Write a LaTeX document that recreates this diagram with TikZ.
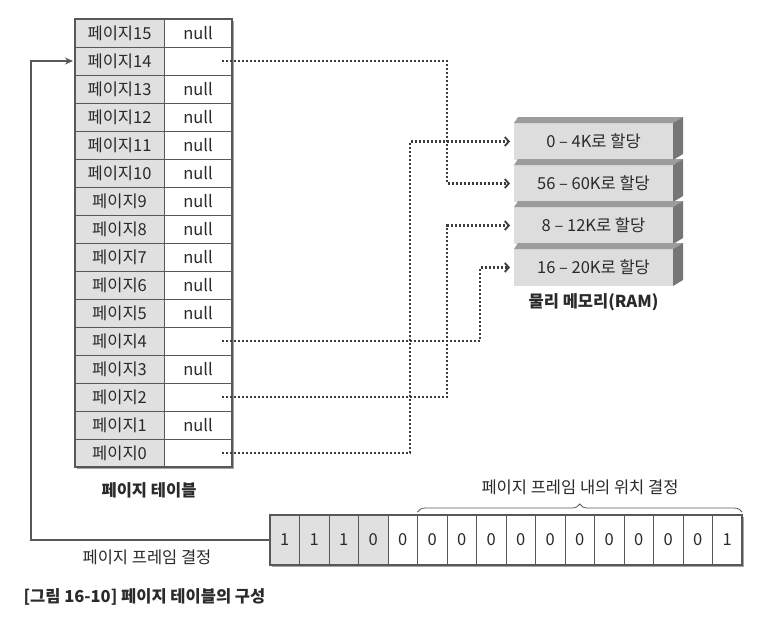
\documentclass[tikz,border=0pt]{standalone}
\usepackage{fontspec}
\setmainfont{Noto Sans CJK KR}
\usetikzlibrary{backgrounds,positioning,arrows.meta,decorations.pathreplacing}

\definecolor{cellgray}{HTML}{E0E0E0}
\definecolor{linegray}{HTML}{585858}
\definecolor{textgray}{HTML}{2A2A2A}
\definecolor{dotgray}{HTML}{3C3C3C}
\definecolor{memfront}{HTML}{DDDDDD}
\definecolor{memtop}{HTML}{9C9C9C}
\definecolor{memside}{HTML}{767676}

\tikzset{
	txt/.style={text=textgray, font=\fontsize{16.5}{19}\selectfont},
	boldtxt/.style={text=textgray, font=\fontsize{16.5}{19}\selectfont\bfseries},
	pagecell/.style={txt, draw=linegray, fill=cellgray, minimum width=89, minimum height=28, inner sep=0pt, outer sep=0pt},
	valcell/.style={txt, draw=linegray, fill=white, minimum width=68, minimum height=28, inner sep=0pt, outer sep=0pt},
	bit/.style={txt, draw=linegray, fill=white, minimum width=29.5, minimum height=50, inner sep=0pt, outer sep=0pt},
	memface/.style={txt, fill=memfront, minimum width=159, minimum height=37, inner sep=0pt, outer sep=0pt},
	link/.style={draw=dotgray, line width=2.2pt, dash pattern=on 2pt off 2pt, -{Straight Barb[length=4pt,width=9pt,line width=1.8pt]}, shorten >=4pt},
	framelink/.style={draw=linegray, line width=1.3pt, -{Stealth[length=8pt,width=7pt]}, shorten >=2pt}
}

\begin{document}
\begin{tikzpicture}[x=1pt,y=-1pt]
	\useasboundingbox (0,0) rectangle (765,619);
	
	% page table
	\foreach \k/\v in {15/null,14/,13/null,12/null,11/null,10/null,9/null,8/null,7/null,6/null,5/null,4/,3/null,2/,1/null,0/}{
		\node[pagecell] (l\k) at (119.5, {33+(15-\k)*28}) {페이지\k};
		\node[valcell, right=0pt of l\k] (v\k) {\v};
	}
	\draw[linegray, line width=1.4pt] (l15.north west) rectangle (v0.south east);
	\begin{scope}[on background layer]
		\fill[gray!70] ([shift={(2,2)}]l15.north west) rectangle ([shift={(2,2)}]v0.south east);
	\end{scope}
	\node[boldtxt] (tbllbl) at (149, 490) {페이지 테이블};
	
	% physical memory
	\foreach \t/\n [count=\i from 0] in {0 – 4K로 할당/m0, 56 – 60K로 할당/m56, 8 – 12K로 할당/m8, 16 – 20K로 할당/m16}{
		\node[memface] (\n) at (593.5, {141.5+\i*42}) {\t};
		\fill[memtop] (\n.north west) -- ++(4,-6) -- ([shift={(10,-6)}]\n.north east) -- (\n.north east) -- cycle;
		\fill[memside] (\n.north east) -- ++(10,-6) -- ([shift={(10,-6)}]\n.south east) -- (\n.south east) -- cycle;
	}
	\node[boldtxt, below=4pt of m16] (ramlbl) {물리 메모리(RAM)};
	
	% mapping
	\draw[link] ([xshift=-10]v14.east) -| ([xshift=-67]m56.west) -- (m56.west);
	\draw[link] ([xshift=-10]v4.east) -| ([xshift=-34]m16.west) -- (m16.west);
	\draw[link] ([xshift=-10]v2.east) -| ([xshift=-67]m8.west) -- (m8.west);
	\draw[link] ([xshift=-10]v0.east) -| ([xshift=-104]m0.west) -- (m0.west);
	
	% logical address
	\foreach \b [count=\i from 0] in {1,1,1,0}
		\node[bit, fill=cellgray] (b\i) at ({284.75+\i*29.5}, 540) {\b};
	\foreach \b [count=\i from 4] in {0,0,0,0,0,0,0,0,0,0,0,1}
		\node[bit] (b\i) at ({284.75+\i*29.5}, 540) {\b};
	\draw[linegray, line width=1.4pt] (b0.north west) rectangle (b15.south east);
	\begin{scope}[on background layer]
		\fill[gray!70] ([shift={(2,2)}]b0.north west) rectangle ([shift={(2,2)}]b15.south east);
	\end{scope}
	
	\draw[linegray, line width=0.8pt, decorate, decoration={brace, amplitude=8pt}] ([yshift=3]b5.north west) -- ([yshift=3]b15.north east);
	\node[txt] (offlbl) at (580, 487) {페이지 프레임 내의 위치 결정};
	
	\draw[framelink] (b0.west) -| ([xshift=-44]l14.west) -- (l14.west);
	\node[txt] (framelbl) at (147, 557) {페이지 프레임 결정};
	
	\node[boldtxt, anchor=west] (caption) at (20, 597) {[그림 16-10] 페이지 테이블의 구성};
\end{tikzpicture}
\end{document}
